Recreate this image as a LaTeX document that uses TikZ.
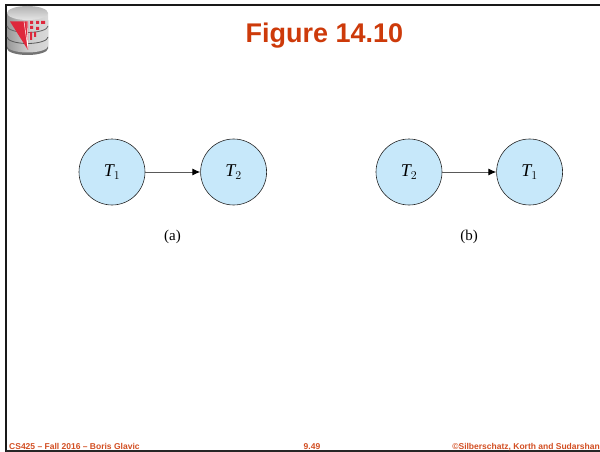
\documentclass[tikz,border=0pt]{standalone}
\usepackage{amsmath}
\usepackage{fontspec}
\setmainfont{Liberation Sans}
\newfontfamily\bookfont{Liberation Serif}
\usetikzlibrary{positioning,arrows.meta}
\definecolor{slidered}{RGB}{205,58,10}
\definecolor{nodeblue}{RGB}{199,232,250}
\definecolor{logored}{RGB}{222,40,60}

\begin{document}
\begin{tikzpicture}[x=1pt, y=-1pt,
  txn/.style={circle, draw=black!85, fill=nodeblue, line width=0.6pt, minimum size=66pt, inner sep=0pt, font=\bookfont\itshape\fontsize{18}{18}\selectfont},
  sublabel/.style={font=\bookfont\fontsize{15}{15}\selectfont},
  foot/.style={font=\bfseries\fontsize{8.5}{8.5}\selectfont, text=slidered!90!white, inner sep=0pt},
  conflict/.style={line width=1pt, black!65, -{Latex[length=8pt,width=7pt,black]}}]
\useasboundingbox (0,0) rectangle (600,452);

% slide frame
\draw[line width=2pt, black!90] (5.5,452) -- (5.5,5) -- (600,5);
\draw[line width=1.2pt, black!85] (5.5,451) -- (600,451);

% logo
\fill[black!55] (7,20) -- (7,48.5) arc[start angle=180, end angle=360, x radius=20.5, y radius=-6.5] -- (48,20) -- cycle;
\shade[left color=black!40, right color=black!15, middle color=black!20] (7,13) -- (7,46) arc[start angle=180, end angle=360, x radius=20.5, y radius=-6.5] -- (48,13) -- cycle;
\shade[top color=black!30, bottom color=black!10] (27.5,13) ellipse[x radius=20.5, y radius=7];
\draw[line width=0.8pt, black!60] (7,26) arc[start angle=180, end angle=360, x radius=20.5, y radius=-6.5];
\draw[line width=0.8pt, black!65] (7,37) arc[start angle=180, end angle=360, x radius=20.5, y radius=-6.5];
\fill[logored] (10,21.5) -- (28,21.5) -- (28,50) -- cycle;
\draw[white, line width=0.5pt] (28,49) -- (24,21.5) (28,49) -- (27,21.5);
\fill[logored] (30,21) rectangle (33,24) (36,21) rectangle (39,24) (41,21) rectangle (45,24)
  (30,26) rectangle (33,29) (36,27) rectangle (39,30) (30,32) rectangle (32,40) (34,32) rectangle (36,37);

% title
\node[font=\bfseries\fontsize{27}{27}\selectfont, text=slidered, inner sep=0pt, anchor=base] (title) at (324.5,43) {Figure 14.10};

% schedule a
\node[txn] (t1a) at (112,172) {T$_1$};
\node[txn, right=55pt of t1a] (t2a) {T$_2$};
\node[sublabel] (capa) at (172.5,237) {(a)};
\draw[conflict] (t1a) -- (t2a);

% schedule b
\node[txn] (t2b) at (409,172) {T$_2$};
\node[txn, right=54pt of t2b] (t1b) {T$_1$};
\node[sublabel] (capb) at (469,237) {(b)};
\draw[conflict] (t2b) -- (t1b);

% footer
\node[foot, anchor=base west] (footl) at (9,449) {CS425 – Fall 2016 – Boris Glavic};
\node[foot, anchor=base] (footm) at (312,449) {9.49};
\node[foot, anchor=base east] (footr) at (600,449) {©Silberschatz, Korth and Sudarshan};
\end{tikzpicture}
\end{document}
